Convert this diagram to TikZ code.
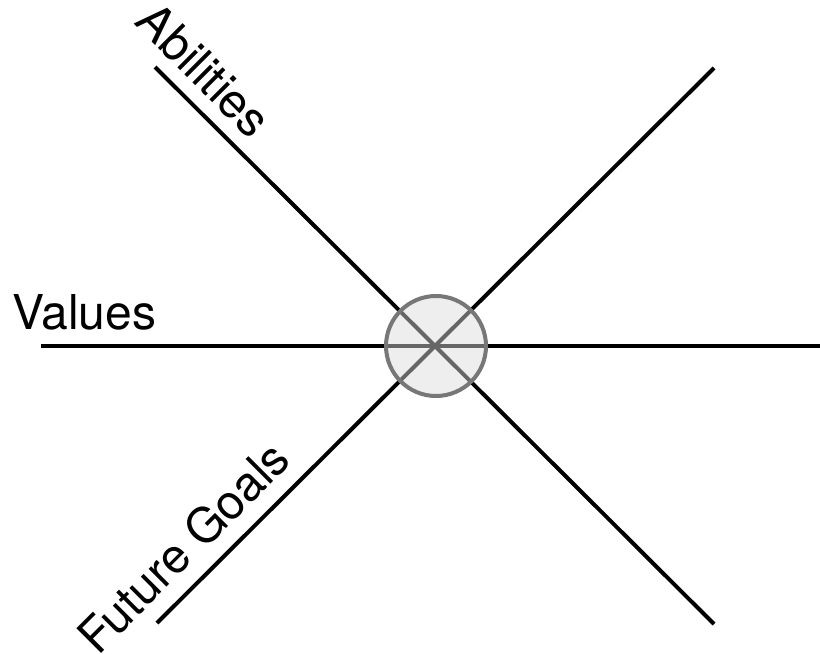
\documentclass[tikz,border=0pt]{standalone}
\usepackage{fontspec}
\setmainfont{TeX Gyre Heros}
\usetikzlibrary{positioning}
\definecolor{HubRim}{HTML}{777777}
\definecolor{HubFill}{HTML}{DADADA}

\begin{document}
\begin{tikzpicture}[x=0.75pt,y=-0.75pt,
      spoke/.style={line width=3pt,color=black},
      hub/.style={circle,draw=HubRim,line width=3pt,fill=HubFill,fill opacity=0.47,
        minimum size=75pt,inner sep=0pt},
      lbl/.style={font=\fontsize{36}{42}\selectfont,inner sep=0pt}
    ]
      \useasboundingbox (0,0) rectangle (820,653);
      \coordinate (c) at (436,346);
      \coordinate (nw) at (155,67);
      \coordinate (se) at (714,624);
      \coordinate (ne) at (714,68);
      \coordinate (sw) at (157,623);
      \coordinate (w) at (41,346);
      \coordinate (e) at (820,346);
      \draw[spoke] (nw) -- (se);
      \draw[spoke] (ne) -- (sw);
      \draw[spoke] (w) -- (e);
      \node[hub] (ring) at (c) {};
      \node[lbl,rotate=-45] (abil) at (204,70) {Abilities};
      \node[lbl,anchor=base west] (vals) at (12,329) {Values};
      \node[lbl,rotate=45] (goals) at (183,547) {Future Goals};
    \end{tikzpicture}
\end{document}
